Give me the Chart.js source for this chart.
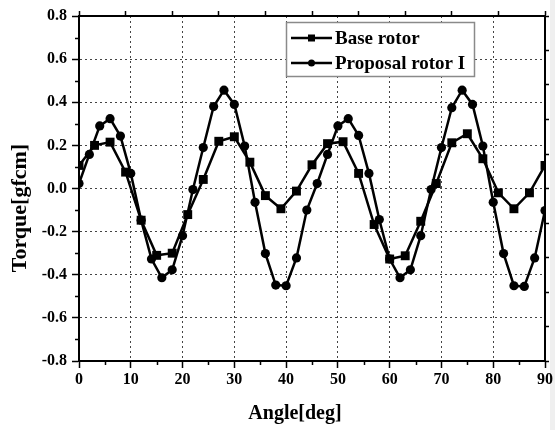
<!DOCTYPE html>
<html>
<head>
<meta charset="utf-8">
<script src="https://cdn.jsdelivr.net/npm/chart.js@4.4.1/dist/chart.umd.min.js"></script>
<style>
  html, body { margin: 0; padding: 0; background: #ffffff; }
  #wrap { width: 555px; height: 430px; position: relative; }
</style>
</head>
<body>
<div id="wrap"><canvas id="c" width="555" height="430"></canvas></div>
<script>
// ---- Data ----
const seriesNames = ["Base rotor", "Proposal rotor I"];
const xTitle = "Angle[deg]";
const yTitle = "Torque[gfcm]";

const baseAngles = [0,3,6,9,12,15,18,21,24,27,30,33,36,39,42,45,48,51,54,57,60,63,66,69,72,75,78,81,84,87,90];
const baseTorque = [0.107,0.200,0.215,0.076,-0.147,-0.310,-0.300,-0.121,0.042,0.219,0.240,0.122,-0.033,-0.094,-0.012,0.110,0.208,0.217,0.070,-0.167,-0.327,-0.312,-0.152,0.023,0.212,0.254,0.138,-0.020,-0.094,-0.020,0.107];

const propAngles = [0,2,4,6,8,10,12,14,16,18,20,22,24,26,28,30,32,34,36,38,40,42,44,46,48,50,52,54,56,58,60,62,64,66,68,70,72,74,76,78,80,82,84,86,88,90];
const propTorque = [0.023,0.158,0.290,0.324,0.243,0.070,-0.147,-0.327,-0.414,-0.377,-0.219,-0.005,0.190,0.380,0.456,0.390,0.197,-0.064,-0.302,-0.448,-0.451,-0.322,-0.100,0.023,0.158,0.290,0.324,0.246,0.070,-0.144,-0.327,-0.414,-0.377,-0.219,-0.005,0.190,0.375,0.456,0.390,0.197,-0.064,-0.302,-0.451,-0.454,-0.322,-0.102];

const xTicks = [0,10,20,30,40,50,60,70,80,90];
const yTicks = [-0.8,-0.6,-0.4,-0.2,0.0,0.2,0.4,0.6,0.8];
const xMinorTicks = [5,15,25,35,45,55,65,75,85];
const yMinorTicks = [-0.7,-0.5,-0.3,-0.1,0.1,0.3,0.5,0.7];

const FONT = "'Liberation Serif', 'Times New Roman', serif";

const toXY = (xs, ys) => xs.map((x, i) => ({ x: x, y: ys[i] }));

const extrasPlugin = {
  id: 'extras',
  beforeDraw(chart) {
    const ctx = chart.ctx;
    ctx.save();
    ctx.fillStyle = '#ffffff';
    ctx.fillRect(0, 0, chart.width, chart.height);
    ctx.fillStyle = '#efefef';
    ctx.fillRect(550, 0, chart.width - 550, chart.height);
    ctx.restore();
  },
  afterDraw(chart) {
    const ctx = chart.ctx;
    const xs = chart.scales.x, ys = chart.scales.y;
    const ca = chart.chartArea;
    ctx.save();
    // minor ticks
    ctx.strokeStyle = '#000';
    ctx.lineWidth = 1.5;
    ctx.beginPath();
    xMinorTicks.forEach(v => {
      const px = Math.round(xs.getPixelForValue(v)) + 0.5;
      ctx.moveTo(px, ca.bottom); ctx.lineTo(px, ca.bottom + 4);
    });
    yMinorTicks.forEach(v => {
      const py = Math.round(ys.getPixelForValue(v)) + 0.5;
      ctx.moveTo(ca.left, py); ctx.lineTo(ca.left - 4, py);
    });
    ctx.stroke();

    // axis titles
    ctx.fillStyle = '#000';
    ctx.font = "bold 20px " + FONT;
    ctx.textAlign = 'center';
    ctx.textBaseline = 'middle';
    ctx.fillText(xTitle, 295, 414);
    ctx.save();
    ctx.translate(20, 208);
    ctx.rotate(-Math.PI / 2);
    ctx.font = "bold 22px " + FONT;
    ctx.fillText(yTitle, 0, 0);
    ctx.restore();

    // legend box
    const bx = 286, by = 22, bw = 188, bh = 54;
    ctx.fillStyle = '#ffffff';
    ctx.fillRect(bx, by, bw, bh);
    ctx.strokeStyle = '#8a8a8a';
    ctx.lineWidth = 1.5;
    ctx.strokeRect(bx + 0.5, by + 0.5, bw, bh);
    const rows = [by + 16, by + 41];
    chart.data.datasets.forEach((ds, i) => {
      const y = rows[i];
      ctx.strokeStyle = '#000';
      ctx.lineWidth = 2.5;
      ctx.beginPath();
      ctx.moveTo(bx + 5, y); ctx.lineTo(bx + 46, y);
      ctx.stroke();
      ctx.fillStyle = '#000';
      if (ds.pointStyle === 'rect') {
        ctx.fillRect(bx + 22, y - 3.5, 7, 7);
      } else {
        ctx.beginPath();
        ctx.arc(bx + 25.5, y, 3.5, 0, Math.PI * 2);
        ctx.fill();
      }
      ctx.font = "bold 19px " + FONT;
      ctx.textAlign = 'left';
      ctx.textBaseline = 'middle';
      ctx.fillText(ds.label, bx + 49, y + 1);
    });
    ctx.restore();
  }
};

new Chart(document.getElementById('c'), {
  type: 'line',
  data: {
    datasets: [
      {
        label: seriesNames[0],
        data: toXY(baseAngles, baseTorque),
        borderColor: '#000', backgroundColor: '#000',
        borderWidth: 2.5, pointStyle: 'rect', pointRadius: 6.3,
        pointBorderWidth: 0, tension: 0
      },
      {
        label: seriesNames[1],
        data: toXY(propAngles, propTorque),
        borderColor: '#000', backgroundColor: '#000',
        borderWidth: 2.5, pointStyle: 'circle', pointRadius: 4.6,
        pointBorderWidth: 0, tension: 0
      }
    ]
  },
  options: {
    responsive: false,
    animation: false,
    layout: { padding: { left: 0, right: 4, top: 10, bottom: 0 } },
    plugins: { legend: { display: false }, tooltip: { enabled: false } },
    scales: {
      x: {
        type: 'linear', position: 'bottom', min: 0, max: 90,
        afterBuildTicks: s => { s.ticks = xTicks.map(v => ({ value: v })); },
        afterFit: s => { s.height = 69; },
        ticks: { font: { family: FONT, size: 16, weight: 'bold' }, color: '#000', padding: 2, maxRotation: 0,
                 callback: v => String(v) },
        grid: { color: '#444', lineWidth: 1, tickColor: '#000', tickLength: 7, tickWidth: 1.5, tickBorderDash: [] },
        border: { color: '#000', width: 2, dash: [2, 3] }
      },
      y: {
        type: 'linear', position: 'left', min: -0.8, max: 0.8,
        afterBuildTicks: s => { s.ticks = yTicks.map(v => ({ value: v })); },
        afterFit: s => { s.width = 79; },
        ticks: { font: { family: FONT, size: 16, weight: 'bold' }, color: '#000', padding: 5,
                 callback: v => (Math.abs(v) < 1e-9 ? 0 : v).toFixed(1) },
        grid: { color: '#444', lineWidth: 1, tickColor: '#000', tickLength: 7, tickWidth: 1.5, tickBorderDash: [] },
        border: { color: '#000', width: 2, dash: [2, 3] }
      },
      x2: {
        type: 'linear', position: 'top', min: 0, max: 10,
        afterBuildTicks: s => { const t = []; for (let i = 0; i <= 10; i++) t.push({ value: i }); s.ticks = t; },
        afterFit: s => { s.height = 6; },
        ticks: { display: false },
        grid: { drawOnChartArea: false, tickColor: '#000', tickLength: 5, tickWidth: 1.5, tickBorderDash: [] },
        border: { color: '#000', width: 2 }
      },
      y2: {
        type: 'linear', position: 'right', min: 0, max: 10,
        afterBuildTicks: s => { const t = []; for (let i = 0; i <= 10; i++) t.push({ value: i }); s.ticks = t; },
        afterFit: s => { s.width = 5; },
        ticks: { display: false },
        grid: { drawOnChartArea: false, tickColor: '#000', tickLength: 4, tickWidth: 1.5, tickBorderDash: [] },
        border: { color: '#000', width: 2 }
      }
    }
  },
  plugins: [extrasPlugin]
});
</script>
</body>
</html>
